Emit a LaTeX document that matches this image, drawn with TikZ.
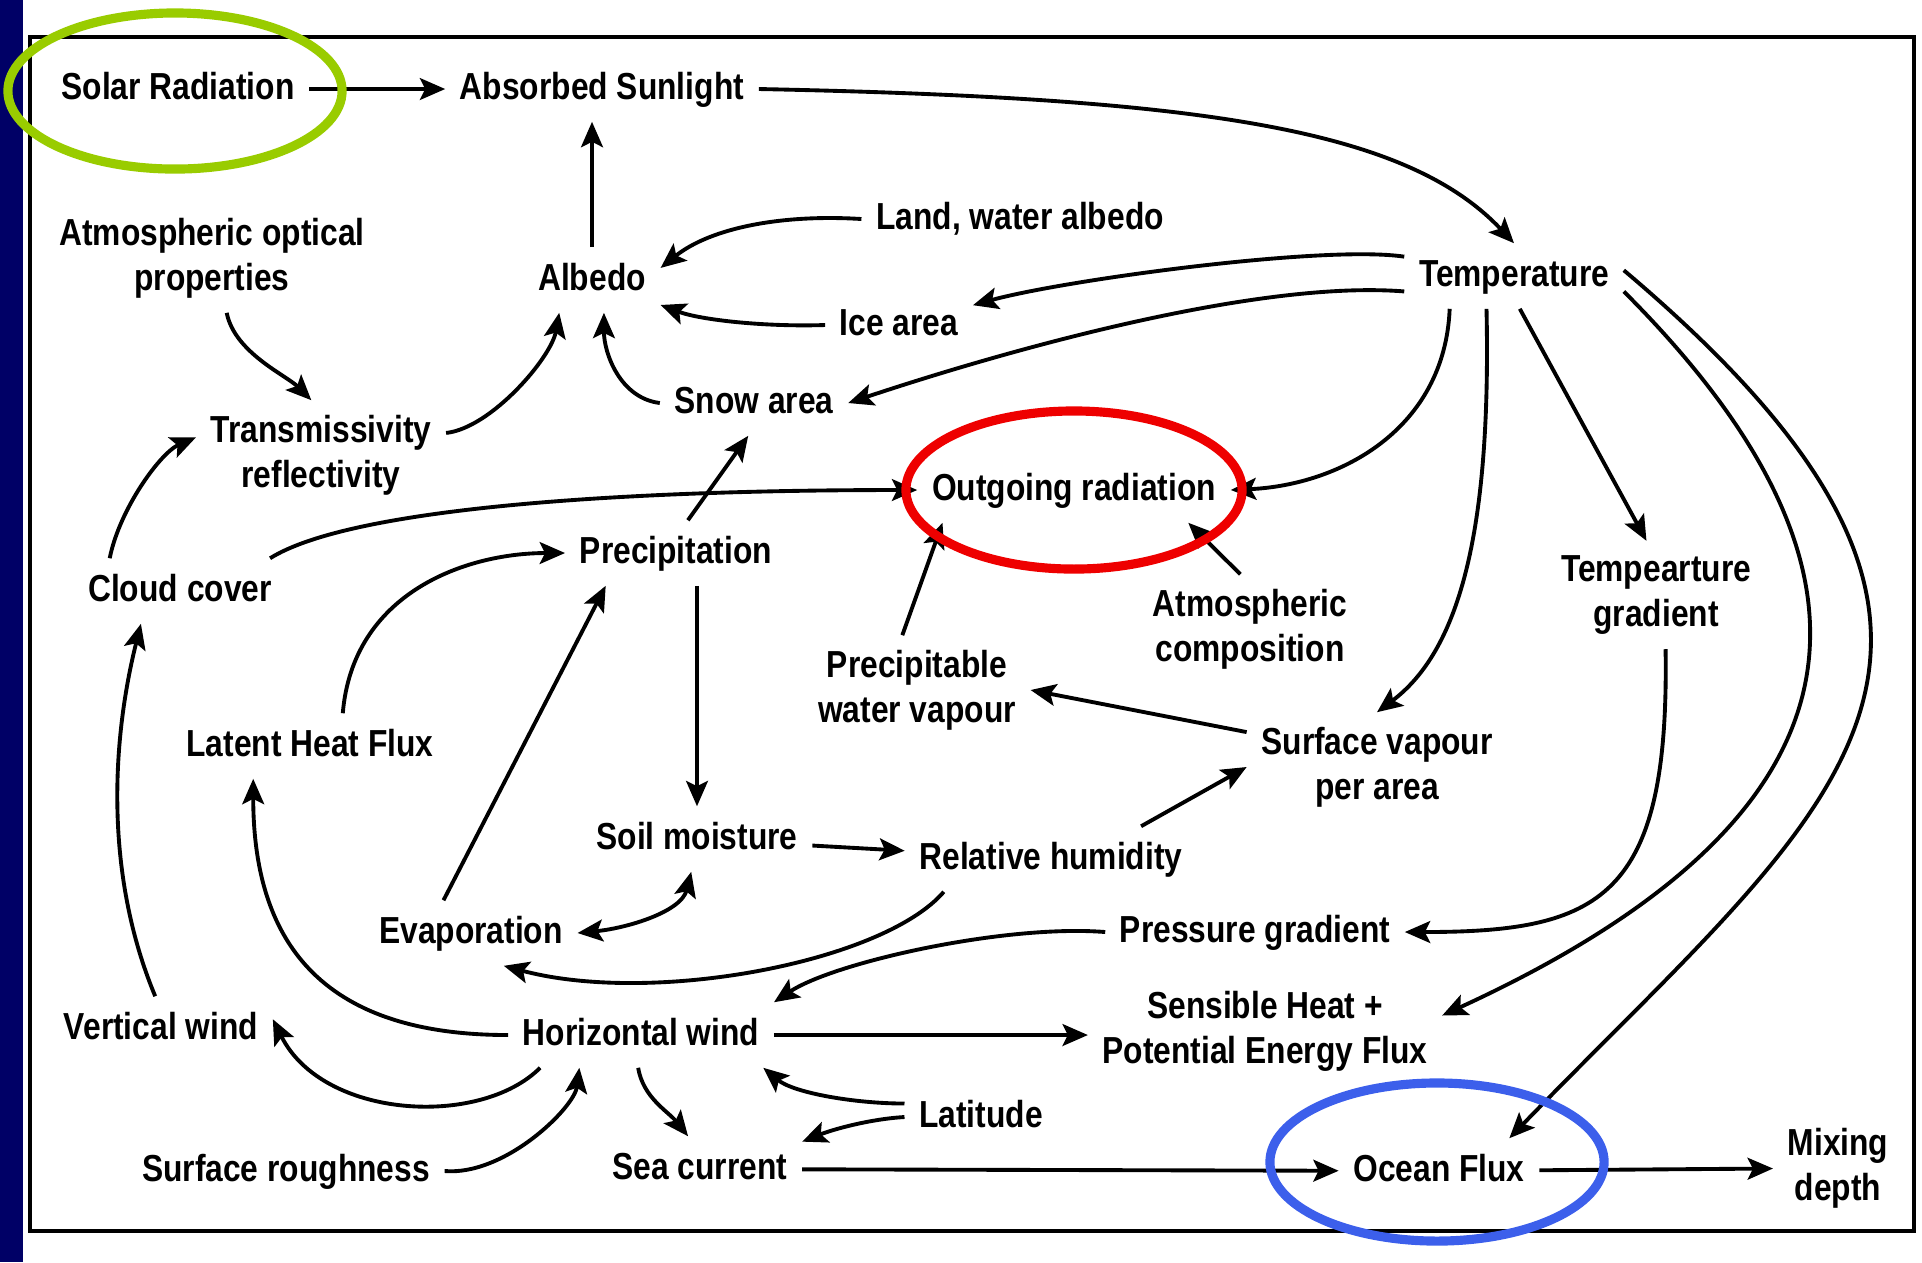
\documentclass[tikz,border=0pt]{standalone}
\usepackage{fontspec}
\setmainfont{Liberation Sans}[FakeStretch=0.844]
\usetikzlibrary{arrows.meta}
\definecolor{navybar}{RGB}{0,0,102}
\definecolor{ringgreen}{RGB}{153,204,0}
\definecolor{ringred}{RGB}{238,0,0}
\definecolor{ringblue}{RGB}{60,95,235}

\begin{document}
\begin{tikzpicture}[x=0.01cm,y=-0.01cm,
  >={Stealth[length=7.2pt,width=6.2pt,inset=1.5pt]},
  box/.style={font=\fontsize{10.7}{12.8}\selectfont\bfseries, inner sep=4pt, text height=0.28cm, text depth=0.08cm},
  box2/.style={font=\fontsize{10.7}{12.8}\selectfont\bfseries, inner sep=4pt, align=center},
  link/.style={->, line width=1.1pt},
  ring/.style={line width=2.6pt}]
\useasboundingbox (0,0) rectangle (1922,1262);
\fill[navybar] (0,0) rectangle (23,1262);
\draw[line width=1pt] (30,37) rectangle (1914,1231);

% top row
\node[box] (sol) at (178,89) {Solar Radiation};
\node[box] (abs) at (602,89) {Absorbed Sunlight};
\node[box2] (aop) at (212,258) {Atmospheric optical\\properties};
\node[box] (alb) at (592,280) {Albedo};
\node[box] (land) at (1020,219) {Land, water albedo};
\node[box] (ice) at (899,325) {Ice area};
\node[box] (temp) at (1514,276) {Temperature};
\node[box] (snow) at (754,403) {Snow area};
\node[box2] (trans) at (321,455) {Transmissivity\\reflectivity};
\node[box] (out) at (1074,490) {Outgoing radiation};
\node[box] (cloud) at (180,591) {Cloud cover};
\node[box] (prec) at (676,553) {Precipitation};
\node[box2] (acomp) at (1250,629) {Atmospheric\\composition};
\node[box2] (tgrad) at (1656,595) {Tempearture\\gradient};
\node[box2] (pwv) at (917,690) {Precipitable\\water vapour};
% middle
\node[box] (lhf) at (310,746) {Latent Heat Flux};
\node[box2] (svap) at (1377,767) {Surface vapour\\per area};
\node[box] (soil) at (697,839) {Soil moisture};
\node[box] (rh) at (1051,859) {Relative humidity};
\node[box] (evap) at (471,933) {Evaporation};
\node[box] (pgrad) at (1255,932) {Pressure gradient};
% bottom
\node[box] (vwind) at (161,1029) {Vertical wind};
\node[box] (hwind) at (641,1035) {Horizontal wind};
\node[box2] (sens) at (1265,1031) {Sensible Heat +\\Potential Energy Flux};
\node[box] (lat) at (981,1117) {Latitude};
\node[box] (srough) at (286,1171) {Surface roughness};
\node[box] (sea) at (700,1169) {Sea current};
\node[box] (ocean) at (1439,1171) {Ocean Flux};
\node[box2] (mix) at (1838,1168) {Mixing\\depth};

\draw[link] (sol) -- (abs);
\draw[link] (alb.north) -- (alb.north |- abs.south);
\draw[link] (abs.east) .. controls +(440,9) and +(-108,-115) .. (temp.north);
\draw[link] (land.west) .. controls +(-80,-5) and +(50,-40) .. (alb.10);
\draw[link] (ice.west) .. controls +(-60,2) and +(40,15) .. (alb.-20);
\draw[link] (temp.170) .. controls +(-80,-12) and +(90,-25) .. (ice.15);
\draw[link] (temp.188) .. controls +(-150,-12) and +(150,-50) .. (snow.east);
\draw[link] (snow.west) .. controls +(-40,-5) and +(0,40) .. (alb.-70);
\draw[link] (aop.-75) .. controls +(8,40) and +(-25,-25) .. (trans.100);
\draw[link] (trans.10) .. controls +(45,-5) and +(-8,45) .. (alb.-135);
\draw[link] (cloud.155) .. controls +(10,-50) and +(-35,15) .. (trans.172);
\draw[link] (cloud.20) .. controls +(80,-50) and +(-300,0) .. (out.west);
\draw[link] (prec.70) -- (snow.-100);
\draw[link] (temp.-153) .. controls +(-5,120) and +(110,-5) .. (out.east);
\draw[link] (acomp.100) -- (out.-16);
\draw[link] (pwv.105) -- (out.-166);
\draw[link] (temp.-80) -- (tgrad.100);
\draw[link] (temp.-130) .. controls +(5,230) and +(80,-60) .. (svap.north);
\draw[link] (temp.-8) .. controls +(330,330) and +(370,-170) .. (sens.5);
\draw[link] (temp.3) .. controls +(450,380) and +(320,-330) .. (ocean.25);
\draw[link] (tgrad.-80) .. controls +(4,250) and +(195,0) .. (pgrad.east);
\draw[link] (svap.165) -- (pwv.east);
\draw[link] (rh.20) -- (svap.west);
\draw[link] (soil) -- (rh);
\draw[link] (soil.north |- prec.south) -- (soil.north);
\draw[link] (lhf.45) .. controls +(10,-120) and +(-100,0) .. (prec.west);
\draw[link] (evap.130) -- (prec.-155);
\draw[link, <->] (evap.east) .. controls +(50,-5) and +(-10,40) .. (soil.-100);
\draw[link] (rh.-163) .. controls +(-60,70) and +(150,40) .. (evap.-45);
\draw[link] (pgrad.west) .. controls +(-100,-8) and +(60,-40) .. (hwind.north east);
\draw[link] (hwind.west) .. controls +(-180,0) and +(0,170) .. (lhf.-150);
\draw[link] (vwind.100) .. controls +(-50,-120) and +(-30,120) .. (cloud.-140);
\draw[link] (hwind.east) -- (hwind.east -| sens.west);
\draw[link] (hwind.-162) .. controls +(-60,60) and +(50,100) .. (vwind.5);
\draw[link] (srough.east) .. controls +(60,5) and +(-5,40) .. (hwind.-152);
\draw[link] (hwind.-95) .. controls +(5,30) and +(-20,-25) .. (sea.110);
\draw[link] (lat.170) .. controls +(-50,0) and +(30,25) .. (hwind.-15);
\draw[link] (lat.west) .. controls +(-35,2) and +(30,-12) .. (sea.15);
\draw[link] (sea) -- (ocean);
\draw[link] (ocean) -- (mix);

% highlight rings
\draw[ring, ringgreen] (sol) ++(-3,2) ellipse [x radius=1.67cm, y radius=0.78cm];
\draw[ring, ringred] (out) ellipse [x radius=1.68cm, y radius=0.79cm];
\draw[ring, ringblue] (ocean) ++(-2,-9) ellipse [x radius=1.67cm, y radius=0.79cm];
\end{tikzpicture}
\end{document}
